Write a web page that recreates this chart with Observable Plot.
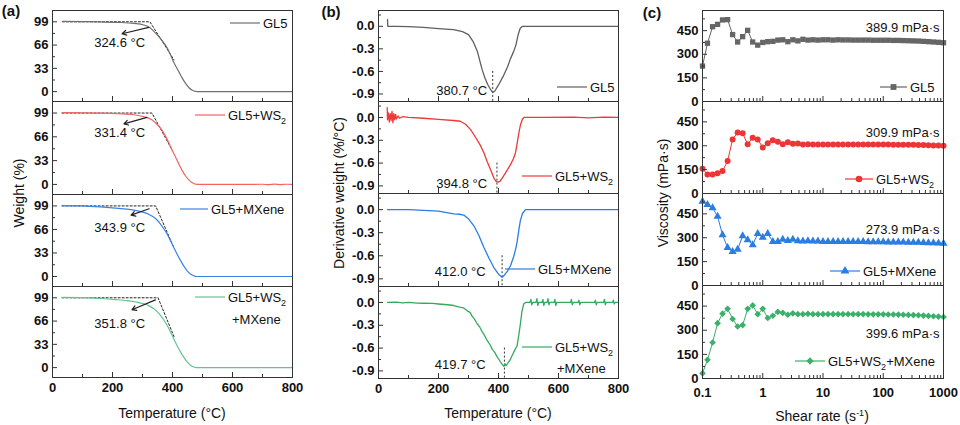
<!DOCTYPE html>
<html><head><meta charset="utf-8">
<script src="https://cdn.jsdelivr.net/npm/d3@7"></script>
<script src="https://cdn.jsdelivr.net/npm/@observablehq/plot@0.6"></script>
<style>
body{margin:0;background:#fff;}
#root{position:relative;width:960px;height:425px;overflow:hidden;font-family:"Liberation Sans",Arial,sans-serif;color:#111;background:#fff;}
#root svg{position:absolute;}
.lbl{position:absolute;white-space:nowrap;line-height:1;}
</style></head><body><div id="root"></div>
<script>
// ---------------- DATA ----------------
const seriesNames = ["GL5", "GL5+WS₂", "GL5+MXene", "GL5+WS₂+MXene"];

// (a) TGA: [temperature °C, weight %]
const tgaGL5 = [[33,99.6],[100,99.3],[160,99],[220,98.2],[271,96.7],[304,94.5],[325,90.5],[338,85.5],[350,80],[360,75],[371,69],[382,62],[392,53.5],[401,44.6],[411,36],[421,28.3],[432,19.5],[443,12],[455,5.5],[466,2],[477,0.3],[490,0],[600,0],[700,0],[800,0]];
const tgaWS2 = [[32,99.5],[100,99.3],[160,99],[220,98],[271,96.6],[304,94],[332,89.5],[354,81],[366,74.5],[377,66.6],[388,57.5],[399,47.5],[410,38],[421,28.5],[432,19.5],[443,12],[455,6],[466,2.3],[477,0.3],[490,0],[600,0],[700,0.2],[720,-0.4],[740,0.3],[760,-0.3],[780,0.2],[800,0]];
const tgaMX = [[32,99.5],[100,99],[160,97.6],[210,96],[249,94.5],[280,92.5],[304,90],[322,87],[338,83],[350,78.5],[360,73.5],[371,67],[382,59.6],[393,50.5],[404,41],[415,31.5],[427,22.3],[438,14.5],[449,8],[460,3.5],[471,1],[480,0],[600,0],[700,0],[800,0]];
const tgaWM = [[32,99.5],[100,99.2],[160,98],[210,96.5],[249,95],[280,93],[304,90.5],[322,87.5],[338,83.4],[350,79],[360,74],[371,67.5],[382,60],[393,51],[404,41],[415,31.5],[427,22],[438,14.5],[449,8],[460,3.5],[471,1],[480,0],[600,0],[700,0],[800,0]];
const onsetTemps = [324.6, 331.4, 343.9, 351.8];

// (b) DTG: [temperature °C, derivative weight %/°C]
const dtgGL5 = [[30,0.09],[31,0.0],[60,0.0],[100,-0.005],[150,-0.015],[200,-0.03],[250,-0.045],[280,-0.07],[300,-0.11],[315,-0.2],[330,-0.34],[345,-0.57],[355,-0.69],[365,-0.78],[375,-0.85],[381,-0.88],[388,-0.86],[400,-0.78],[415,-0.67],[430,-0.54],[440,-0.43],[450,-0.34],[458,-0.25],[465,-0.12],[472,-0.03],[480,0.0],[500,0.0],[600,0.0],[700,0.0],[800,0.0]];
const dtgWS2 = [[29,0.13],[30,-0.03],[33,0.06],[36,-0.06],[39,0.05],[42,-0.04],[45,0.08],[48,-0.07],[51,0.05],[54,-0.03],[57,0.04],[60,-0.02],[65,0.02],[70,-0.01],[80,0.01],[100,0.0],[150,-0.01],[200,-0.025],[250,-0.04],[273,-0.05],[290,-0.09],[307,-0.16],[325,-0.27],[340,-0.37],[352,-0.47],[362,-0.58],[375,-0.7],[385,-0.8],[392,-0.84],[398,-0.85],[405,-0.84],[415,-0.78],[428,-0.7],[440,-0.62],[450,-0.54],[457,-0.46],[463,-0.32],[468,-0.2],[473,-0.1],[480,-0.02],[485,0.0],[550,0.0],[650,0.005],[700,-0.005],[750,0.005],[800,0.0]];
const dtgMX = [[30,0.0],[100,0.0],[150,-0.01],[200,-0.02],[251,-0.055],[270,-0.06],[284,-0.07],[300,-0.12],[318,-0.21],[335,-0.34],[351,-0.49],[368,-0.63],[384,-0.75],[400,-0.84],[412,-0.88],[420,-0.85],[430,-0.8],[440,-0.73],[450,-0.62],[458,-0.5],[462,-0.42],[468,-0.26],[473,-0.14],[480,-0.05],[490,0.0],[800,0.0]];
const dtgWM = [[30,0.0],[60,0.005],[80,-0.005],[100,0.0],[130,-0.008],[150,-0.01],[180,-0.012],[200,-0.02],[230,-0.03],[251,-0.04],[270,-0.06],[283,-0.07],[296,-0.11],[305,-0.13],[312,-0.18],[320,-0.22],[329,-0.28],[337,-0.32],[345,-0.38],[353,-0.43],[362,-0.5],[371,-0.55],[380,-0.62],[388,-0.66],[396,-0.72],[403,-0.76],[410,-0.8],[418,-0.84],[422,-0.81],[425,-0.83],[432,-0.79],[438,-0.76],[445,-0.7],[455,-0.62],[462,-0.57],[468,-0.42],[473,-0.28],[478,-0.12],[484,-0.02],[490,0.0],[505,0.0],[508,0.04],[511,-0.03],[514,0.0],[525,0.0],[528,0.05],[531,-0.04],[534,0.0],[545,0.0],[548,0.04],[551,-0.04],[554,0.0],[562,0.0],[565,0.05],[568,-0.03],[571,0.0],[585,0.0],[588,0.04],[591,-0.04],[594,0.0],[640,0.0],[643,0.04],[646,-0.03],[649,0.0],[665,0.0],[668,0.03],[671,-0.03],[674,0.0],[720,0.0],[723,0.03],[726,-0.03],[729,0.0],[750,0.0],[753,0.04],[756,-0.03],[759,0.0],[780,0.0],[783,0.03],[786,-0.02],[789,0.0],[800,0.0]];
const peakTemps = [380.7, 394.8, 412.0, 419.7];

// (c) Viscosity vs shear rate
const shearRates = [0.1,0.121,0.147,0.178,0.215,0.261,0.316,0.383,0.464,0.562,0.681,0.825,
  1,1.21,1.47,1.78,2.15,2.61,3.16,3.83,4.64,5.62,6.81,8.25,
  10,12.1,14.7,17.8,21.5,26.1,31.6,38.3,46.4,56.2,68.1,82.5,
  100,121,147,178,215,261,316,383,464,562,681,825,1000];
const viscGL5 = [225,370,475,490,518,520,425,378,412,452,378,358,375,380,382,390,392,380,392,385,395,390,392,390,392,392,390,392,391,391,390,390,390,390,389,389,389,389,388,388,387,386,385,384,382,380,378,376,373];
const viscWS2 = [156,120,120,128,141,204,340,384,378,310,350,340,289,315,335,325,310,322,312,314,308,310,308,308,308,308,308,308,308,308,308,308,308,308,308,308,308,308,307,307,307,306,306,305,304,303,302,301,300];
const viscMX = [529,508,487,434,318,238,213,226,312,287,255,325,302,325,276,276,290,282,290,280,278,280,278,278,276,276,276,276,275,275,275,275,275,274,274,274,274,273,273,272,272,271,270,270,269,268,267,266,264];
const viscWM = [32,116,224,344,403,433,370,323,332,433,454,400,433,376,390,414,408,396,405,400,400,402,400,400,400,400,400,400,400,400,400,400,400,399,399,399,399,398,398,397,396,395,394,393,391,389,387,385,382];
const viscLabels = ["389.9 mPa·s", "309.9 mPa·s", "273.9 mPa·s", "399.6 mPa·s"];

// tick labels
const tempTicks = [0, 200, 400, 600, 800];
const tempMinor = [100, 300, 500, 700];
const weightTicks = [0, 33, 66, 99];
const weightMinor = [16.5, 49.5, 82.5];
const dtgTicks = [0, -0.3, -0.6, -0.9];
const dtgMinor = [0.15, -0.15, -0.45, -0.75];
const viscTicks = [0, 150, 300, 450];
const viscMinor = [75, 225, 375, 525];
const shearTicks = [0.1, 1, 10, 100, 1000];

// ---------------- STYLE / LAYOUT ----------------
const colA = ["#6f6f6f", "#f26464", "#3a84e4", "#63c490"];
const colB = ["#5f5f5f", "#f03838", "#2a7de1", "#34aa5e"];
const colC = ["#666666", "#ee3535", "#2a7de1", "#3bb06a"];
const symC = [d3.symbolSquare, d3.symbolCircle, d3.symbolTriangle, d3.symbolDiamond2];
const symP = ["square", "circle", "triangle", "diamond2"];
const axisColor = "#333";
const FONT = '"Liberation Sans", Arial, sans-serif';
const root = document.getElementById("root");

function legendMark(L, color, symbol) {
  return (index, scales, values, dims) => {
    const fx = dims.marginLeft, fy = dims.marginTop;
    const g = d3.create("svg:g").attr("font-weight", "normal").attr("font-size", 13).attr("fill", "#111");
    const len = L.len || 30;
    g.append("line").attr("x1", fx + L.x).attr("x2", fx + L.x + len)
      .attr("y1", fy + L.y).attr("y2", fy + L.y).attr("stroke", color).attr("stroke-width", 1.2);
    if (symbol) g.append("path").attr("d", d3.symbol(symbol, 34)())
      .attr("transform", `translate(${fx + L.x + len / 2},${fy + L.y})`).attr("fill", color);
    const addText = (str, x, y) => {
      const t = g.append("text").attr("x", x).attr("y", y).attr("dy", "0.35em").attr("text-anchor", "start");
      str.split("₂").forEach((part, i) => {
        if (i > 0) {
          t.append("tspan").attr("dy", 4).attr("font-size", 9).text("2");
          t.append("tspan").attr("dy", -4).text(part);
        } else t.append("tspan").text(part);
      });
    };
    addText(L.label, fx + L.x + len + 3, fy + L.y);
    if (L.label2) addText(L.label2, fx + L.x2, fy + L.y2);
    return g.node();
  };
}

function makeSub(c) {
  const fw = c.frameRight - c.frameLeft, fh = c.bottom - c.top;
  const mb = c.isBottom ? 28 : 0;
  const marks = [
    ...c.marks,
    Plot.tickX(c.xTicks, {x: d => d, insetTop: fh - 5, stroke: axisColor}),
    Plot.tickX(c.xMinor, {x: d => d, insetTop: fh - 3, stroke: axisColor}),
    Plot.tickY(c.yTicks, {y: d => d, insetRight: fw - 5, stroke: axisColor}),
    Plot.tickY(c.yMinor, {y: d => d, insetRight: fw - 3, stroke: axisColor}),
    Plot.axisY(c.yTicks, {tickSize: 0, tickPadding: 4, tickFormat: c.yFormat, label: null, fontWeight: "bold", fontSize: 13}),
    Plot.frame({stroke: axisColor, strokeWidth: 1})
  ];
  if (c.isBottom) marks.push(Plot.axisX(c.xTicks, {tickSize: 0, tickPadding: c.xPad || 5, tickFormat: c.xFormat, label: null, fontWeight: "bold", fontSize: 13}));
  const svg = Plot.plot({
    width: 320, height: fh + mb,
    marginLeft: c.frameLeft - c.panelLeft, marginRight: c.panelLeft + 320 - c.frameRight,
    marginTop: 0, marginBottom: mb,
    x: Object.assign({}, c.x, c.isBottom ? {} : {axis: null}),
    y: Object.assign({}, c.y, {axis: null}),
    style: {background: "transparent", overflow: "visible", fontFamily: FONT, fontSize: "13px", color: "#111"},
    marks
  });
  svg.style.left = c.panelLeft + "px";
  svg.style.top = c.top + "px";
  root.append(svg);
}

function hlabel(html, cx, cy, o = {}) {
  const d = document.createElement("div");
  d.className = "lbl";
  d.innerHTML = html;
  d.style.left = cx + "px"; d.style.top = cy + "px";
  d.style.transform = "translate(-50%,-50%)" + (o.rotate ? " rotate(-90deg)" : "");
  d.style.fontSize = (o.size || 14) + "px";
  d.style.fontWeight = o.bold ? "bold" : "normal";
  root.append(d);
}

// ---------------- PANEL (a) ----------------
const tgaData = [tgaGL5, tgaWS2, tgaMX, tgaWM];
const aTops = [10, 101, 194, 286], aBottoms = [101, 194, 286, 377];
const tangentEnds = [[405, 45], [399, 47.5], [404, 41], [405, 44]];
const aArrows = [[321, 91, 232, 82], [315, 93, 238, 84], [322, 95, 262, 86], [343, 96, 265, 82]];
const aLabelPos = [[224, 69], [224, 71], [224, 68.6], [224, 62]];
const aLegends = [
  {x: 178, y: 13, label: "GL5"},
  {x: 143, y: 14, label: "GL5+WS₂"},
  {x: 128, y: 15, len: 28, label: "GL5+MXene"},
  {x: 143, y: 11, label: "GL5+WS₂", label2: "+MXene", x2: 180, y2: 33}
];
for (let i = 0; i < 4; i++) {
  makeSub({
    panelLeft: 0, frameLeft: 52, frameRight: 292, top: aTops[i], bottom: aBottoms[i], isBottom: i === 3,
    x: {domain: [0, 800]}, y: {domain: [-14, 115]},
    xTicks: tempTicks, xMinor: tempMinor, yTicks: weightTicks, yMinor: weightMinor,
    yFormat: d => String(d), xFormat: d => String(d),
    marks: [
      Plot.line([[tgaData[i][0][0], 99], [onsetTemps[i], 99], tangentEnds[i]], {x: d => d[0], y: d => d[1], stroke: "#222", strokeDasharray: "2,2", strokeWidth: 1}),
      Plot.line(tgaData[i], {x: d => d[0], y: d => d[1], stroke: colA[i], strokeWidth: 1.2, curve: "monotone-x"}),
      Plot.arrow([aArrows[i]], {x1: d => d[0], y1: d => d[1], x2: d => d[2], y2: d => d[3], stroke: "#222", strokeWidth: 1.2, headLength: 6}),
      Plot.text([onsetTemps[i]], {x: () => aLabelPos[i][0], y: () => aLabelPos[i][1], text: d => d.toFixed(1) + " °C", fontWeight: "normal", fontSize: 13, fill: "#111"}),
      legendMark(aLegends[i], colA[i], null)
    ]
  });
}

// ---------------- PANEL (b) ----------------
const dtgData = [dtgGL5, dtgWS2, dtgMX, dtgWM];
const bTops = [10, 101, 193, 286], bBottoms = [101, 193, 286, 378];
const bLabelPos = [[362, -0.857], [362, -0.876], [357, -0.814], [357, -0.82]];
const bLegends = [
  {x: 179, y: 77, label: "GL5"},
  {x: 144, y: 75, label: "GL5+WS₂"},
  {x: 127, y: 76, label: "GL5+MXene"},
  {x: 144, y: 61, label: "GL5+WS₂", label2: "+MXene", x2: 179, y2: 82}
];
for (let i = 0; i < 4; i++) {
  makeSub({
    panelLeft: 320, frameLeft: 378, frameRight: 618, top: bTops[i], bottom: bBottoms[i], isBottom: i === 3,
    x: {domain: [0, 800]}, y: {domain: [-1.0, 0.21]},
    xTicks: tempTicks, xMinor: tempMinor, yTicks: dtgTicks, yMinor: dtgMinor,
    yFormat: d => d.toFixed(1), xFormat: d => String(d),
    marks: [
      Plot.ruleX([peakTemps[i]], {x: d => d, y1: -0.6, y2: -1.0, stroke: "#333", strokeDasharray: "2,2", strokeWidth: 1}),
      Plot.line(dtgData[i], {x: d => d[0], y: d => d[1], stroke: colB[i], strokeWidth: 1.3}),
      Plot.text([peakTemps[i]], {x: () => bLabelPos[i][0], y: () => bLabelPos[i][1], text: d => d.toFixed(1) + " °C", textAnchor: "end", fontWeight: "normal", fontSize: 13, fill: "#111"}),
      legendMark(bLegends[i], colB[i], null)
    ]
  });
}

// ---------------- PANEL (c) ----------------
const viscData = [viscGL5, viscWS2, viscMX, viscWM];
const cTops = [10, 101, 193, 285], cBottoms = [101, 193, 285, 378];
const cLabelDy = [17, 31, 36, 48];
const cLegends = [
  {x: 178, y: 77, len: 27, label: "GL5"},
  {x: 143, y: 78, len: 28, label: "GL5+WS₂"},
  {x: 128, y: 78, len: 30, label: "GL5+MXene"},
  {x: 93, y: 76, len: 30, label: "GL5+WS₂+MXene"}
];
const shearMinor = [];
for (const dec of [0.1, 1, 10, 100]) for (let k = 2; k <= 9; k++) shearMinor.push(+(dec * k).toPrecision(3));
for (let i = 0; i < 4; i++) {
  const rows = shearRates.map((s, j) => ({s, v: viscData[i][j]}));
  makeSub({
    panelLeft: 640, frameLeft: 702, frameRight: 943, top: cTops[i], bottom: cBottoms[i], isBottom: i === 3,
    x: {type: "log", domain: [0.1, 1000]}, y: {domain: [0, 578]},
    xTicks: shearTicks, xMinor: shearMinor, yTicks: viscTicks, yMinor: viscMinor,
    yFormat: d => String(d), xFormat: d => String(d), xPad: 9,
    marks: [
      Plot.line(rows, {x: "s", y: "v", stroke: colC[i], strokeWidth: 1}),
      Plot.dot(rows, {x: "s", y: "v", fill: colC[i], symbol: symP[i], r: 3}),
      Plot.text([viscLabels[i]], {frameAnchor: "top-right", dx: -4, dy: cLabelDy[i], text: d => d, textAnchor: "end", lineAnchor: "middle", fontWeight: "normal", fontSize: 13, fill: "#111"}),
      legendMark(cLegends[i], colC[i], symC[i])
    ]
  });
}

// ---------------- TITLES ----------------
hlabel("(a)", 11, 10, {bold: true, size: 15});
hlabel("(b)", 331, 11, {bold: true, size: 15});
hlabel("(c)", 652, 12, {bold: true, size: 15});
hlabel("Weight (%)", 19, 193, {rotate: true});
hlabel("Derivative weight (%/°C)", 339, 193, {rotate: true});
hlabel("Viscosity (mPa·s)", 663, 193, {rotate: true});
hlabel("Temperature (°C)", 172, 413);
hlabel("Temperature (°C)", 498, 413);
hlabel("Shear rate (s<sup style='font-size:9px'>-1</sup>)", 822, 416);
</script></body></html>
